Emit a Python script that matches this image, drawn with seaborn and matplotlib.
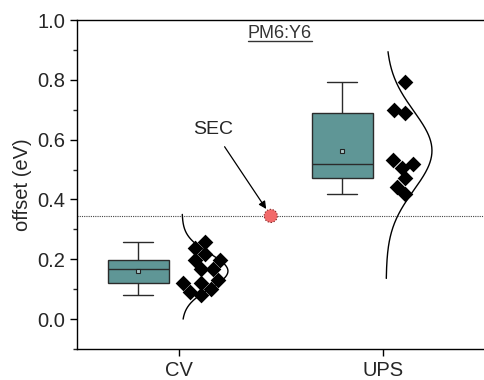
import numpy as np
import pandas as pd
import matplotlib
matplotlib.use("Agg")
import matplotlib.pyplot as plt
from matplotlib.lines import Line2D
from matplotlib.ticker import MultipleLocator
import seaborn as sns

# ---------------- data ----------------
categories = ["CV", "UPS"]
cv_offset = [0.259, 0.238, 0.218, 0.198, 0.198, 0.167, 0.167, 0.130,
             0.121, 0.121, 0.099, 0.091, 0.080]
ups_offset = [0.794, 0.700, 0.690, 0.531, 0.517, 0.506, 0.471, 0.442, 0.418]
curve_low = [0.0, 0.136]      # extent of the drawn distribution curves
curve_high = [0.35, 0.894]
sec_label = "SEC"
sec_value = 0.345
title_text = "PM6:Y6"
y_label = "offset (eV)"

# ---------------- style ----------------
sns.set_style("ticks")
plt.rcParams["font.family"] = ["Liberation Sans", "DejaVu Sans"]

BOX_SHIFT = -0.2
PT_SHIFT = 0.11
CURVE_BASE = 0.015
CURVE_AMP = 0.225
box_color = "#5f9696"
edge = "#2b2b2b"

rows = []
for cat, vals in zip(categories, [cv_offset, ups_offset]):
    for v in vals:
        rows.append({"method": cat, "offset": v})
df = pd.DataFrame(rows)
pos = {c: i for i, c in enumerate(categories)}
df["idx"] = df["method"].map(pos)
df["box_x"] = df["idx"] + BOX_SHIFT
df["pt_x"] = df["idx"] + PT_SHIFT

fig = plt.figure(figsize=(4.85, 3.8), dpi=100)
ax = fig.add_axes([77 / 485, 1 - 349 / 380, 1 - 77 / 485, (349 - 20) / 380])

sns.boxplot(data=df, x="box_x", y="offset", native_scale=True, width=0.3,
            whis=(0, 100), color=box_color, saturation=1, linecolor=edge,
            linewidth=1.0, showmeans=True, showfliers=False,
            meanprops=dict(marker="s", markersize=3.5, markerfacecolor="#a9c8c8",
                           markeredgecolor="#222222", markeredgewidth=0.8),
            ax=ax)

sns.swarmplot(data=df, x="pt_x", y="offset", native_scale=True, marker="D",
              color="black", size=8, linewidth=0, ax=ax)

# normal distribution curves
for i, (cat, vals) in enumerate(zip(categories, [cv_offset, ups_offset])):
    v = np.asarray(vals)
    mu, sd = v.mean(), v.std(ddof=1)
    yy = np.linspace(curve_low[i], curve_high[i], 300)
    dens = np.exp(-0.5 * ((yy - mu) / sd) ** 2)
    ax.plot(i + CURVE_BASE + CURVE_AMP * dens, yy, color="black", lw=1.0)

# SEC reference
ax.axhline(sec_value, color="#444444", lw=0.8, ls=(0, (1, 1)), zorder=1)
sec_x = 0.45
ax.scatter([sec_x], [sec_value], s=90, facecolor="#f26a6a", edgecolor="#7a2020",
           linewidths=0.8, linestyle=":", zorder=5)
ax.annotate(sec_label, xy=(sec_x, sec_value), xytext=(0.166, 0.635),
            ha="center", va="center", fontsize=14,
            arrowprops=dict(arrowstyle="-|>", color="black", lw=0.9,
                            mutation_scale=11, shrinkA=5, shrinkB=6))

# title, underlined
t = ax.text(0.495, 0.955, title_text, ha="center", va="center", fontsize=13,
            color="#333333")

ax.set_xlim(-0.5, 1.5)
ax.set_ylim(-0.1, 1.0)
ax.set_xticks(range(len(categories)))
ax.set_xticklabels(categories)
ax.yaxis.set_minor_locator(MultipleLocator(0.1))
ax.set_yticks(np.arange(0.0, 1.01, 0.2))
ax.yaxis.set_major_formatter(matplotlib.ticker.FormatStrFormatter("%.1f"))
ax.set_xlabel("")
ax.set_ylabel(y_label, fontsize=14.5, labelpad=4)
ax.tick_params(axis="both", which="major", labelsize=14.5, length=5,
               width=1, direction="out", color="black")
ax.tick_params(axis="y", which="minor", length=3, width=1, direction="out")
ax.spines["right"].set_visible(False)
ax.spines["top"].set_visible(True)
for s in ["left", "bottom", "top"]:
    ax.spines[s].set_linewidth(1.0)
    ax.spines[s].set_color("black")

fig.canvas.draw()
bb = t.get_window_extent()
uy = bb.y0 + 0.5
fig.add_artist(Line2D([bb.x0, bb.x1], [uy, uy], transform=None,
                      color="#333333", lw=1.0))

fig.savefig("out.png", dpi=100)
